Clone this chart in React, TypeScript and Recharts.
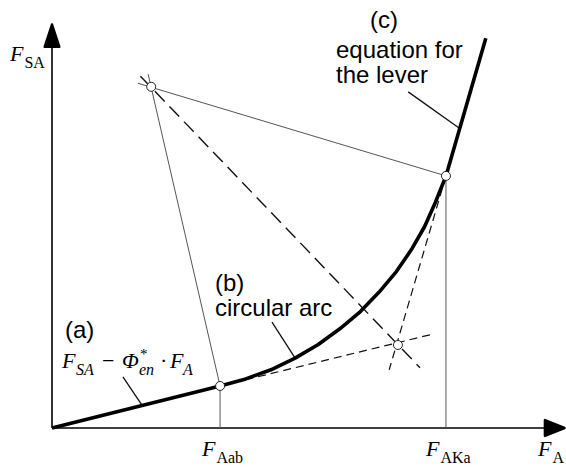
import { ComposedChart, Line, Scatter, XAxis, YAxis } from "recharts";

const W = 566;
const H = 467;

// characteristic curve: straight line (a), circular arc (b), lever equation (c)
const lineA = [
  { x: 0, y: 0 },
  { x: 32.7, y: 8.3 },
];
const arcB = [
  { x: 37.7, y: 9.7 },
  { x: 42.6, y: 11.5 },
  { x: 47.3, y: 13.8 },
  { x: 51.8, y: 16.5 },
  { x: 56.0, y: 19.6 },
  { x: 60.0, y: 23.0 },
  { x: 63.6, y: 26.8 },
  { x: 67.0, y: 30.9 },
  { x: 69.9, y: 35.2 },
  { x: 72.5, y: 39.8 },
  { x: 74.6, y: 44.6 },
];
const lineC = [
  { x: 76.65, y: 49.8 },
  { x: 84.4, y: 77.0 },
];
const curve = [...lineA, ...arcB, ...lineC];

// construction lines
const radiusAab = [
  { x: 18.7, y: 69.9 },
  { x: 32.7, y: 8.3 },
];
const radiusAKa = [
  { x: 16.7, y: 68.1 },
  { x: 76.65, y: 49.8 },
];
const dropAab = [
  { x: 32.7, y: 8.3 },
  { x: 32.7, y: 0 },
];
const dropAKa = [
  { x: 76.65, y: 49.8 },
  { x: 76.65, y: 0 },
];
const bisector = [
  { x: 17.2, y: 69.5 },
  { x: 71.6, y: 11.9 },
];
const tangentA = [
  { x: 32.7, y: 8.3 },
  { x: 74.3, y: 18.6 },
];
const tangentC = [
  { x: 76.65, y: 49.8 },
  { x: 65.6, y: 11.5 },
];

// leader lines from the labels
const leaderA = [
  { x: 13.8, y: 10.1 },
  { x: 17.5, y: 4.5 },
];
const leaderB = [
  { x: 42.8, y: 20.9 },
  { x: 47.3, y: 13.8 },
];
const leaderC = [
  { x: 69.3, y: 66.4 },
  { x: 79.4, y: 59.1 },
];

// axes, with arrowheads at F_A = 100 and F_SA = 80
const xAxisLine = [
  { x: 0, y: 0 },
  { x: 97, y: 0 },
];
const yAxisLine = [
  { x: 0, y: 0 },
  { x: 0, y: 77 },
];
// arrowheads traced as a fan of strokes from the tip to the base
const xArrowFan = [
  { x: 99.7, y: 0 }, { x: 95.9, y: -1.55 },
  { x: 99.7, y: 0 }, { x: 95.9, y: -1.05 },
  { x: 99.7, y: 0 }, { x: 95.9, y: -0.55 },
  { x: 99.7, y: 0 }, { x: 95.9, y: 0 },
  { x: 99.7, y: 0 }, { x: 95.9, y: 0.55 },
  { x: 99.7, y: 0 }, { x: 95.9, y: 1.05 },
  { x: 99.7, y: 0 }, { x: 95.9, y: 1.55 },
  { x: 95.9, y: -1.55 },
];
const yArrowFan = [
  { x: 0, y: 79.7 }, { x: -1.42, y: 75.3 },
  { x: 0, y: 79.7 }, { x: -0.95, y: 75.3 },
  { x: 0, y: 79.7 }, { x: -0.48, y: 75.3 },
  { x: 0, y: 79.7 }, { x: 0, y: 75.3 },
  { x: 0, y: 79.7 }, { x: 0.48, y: 75.3 },
  { x: 0, y: 79.7 }, { x: 0.95, y: 75.3 },
  { x: 0, y: 79.7 }, { x: 1.42, y: 75.3 },
  { x: -1.42, y: 75.3 },
];

// F_Aab, F_AKa, centre of the arc, tangent intersection
const nodes = [
  { x: 32.7, y: 8.3 },
  { x: 76.65, y: 49.8 },
  { x: 19.3, y: 67.4 },
  { x: 67.3, y: 16.4 },
];

const Node = (p: any) => (
  <circle cx={p.cx} cy={p.cy} r={4.5} fill="#fff" stroke="#222" strokeWidth={1} />
);

const serif = "'Liberation Serif', 'Times New Roman', serif";
const sans = "'Liberation Sans', Arial, sans-serif";

function Seg({ data, w = 1, color = "#444", dash }: { data: any[]; w?: number; color?: string; dash?: string }) {
  return (
    <Line
      data={data}
      dataKey="y"
      type="linear"
      stroke={color}
      strokeWidth={w}
      strokeDasharray={dash}
      strokeLinejoin="round"
      dot={false}
      activeDot={false}
      isAnimationActive={false}
      legendType="none"
    />
  );
}

function Sub({ x, y, main, sub }: { x: number; y: number; main: string; sub: string }) {
  return (
    <text x={x} y={y} fontFamily={serif} fontSize={22} fill="#000">
      <tspan fontStyle="italic">{main}</tspan>
      <tspan dx={1} dy={7} fontSize={16}>
        {sub}
      </tspan>
    </text>
  );
}

export default function App() {
  return (
    <div style={{ position: "absolute", left: 0, top: 0, width: W, height: H, background: "#fff" }}>
      <ComposedChart width={W} height={H} margin={{ top: 23, right: 0, bottom: 18.75, left: 31.44 }}>
        <XAxis type="number" dataKey="x" domain={[-4, 100]} hide />
        <YAxis type="number" dataKey="y" domain={[-4, 80]} hide />
        {Seg({ data: xAxisLine, w: 1.6, color: "#000" })}
        {Seg({ data: yAxisLine, w: 1.6, color: "#000" })}
        {Seg({ data: xArrowFan, w: 2.5, color: "#000" })}
        {Seg({ data: yArrowFan, w: 2.5, color: "#000" })}
        {Seg({ data: dropAab, w: 1, color: "#555" })}
        {Seg({ data: dropAKa, w: 1, color: "#555" })}
        {Seg({ data: radiusAab, w: 1, color: "#555" })}
        {Seg({ data: radiusAKa, w: 1, color: "#555" })}
        {Seg({ data: bisector, w: 1.4, color: "#111", dash: "14 7" })}
        {Seg({ data: tangentA, w: 1.2, color: "#111", dash: "8 5" })}
        {Seg({ data: tangentC, w: 1.2, color: "#111", dash: "8 5" })}
        {Seg({ data: leaderA, w: 1.3, color: "#111" })}
        {Seg({ data: leaderB, w: 1.3, color: "#111" })}
        {Seg({ data: leaderC, w: 1.3, color: "#111" })}
        <Line
          data={curve}
          dataKey="y"
          type="linear"
          stroke="#000"
          strokeWidth={3.6}
          strokeLinejoin="round"
          dot={false}
          activeDot={false}
          isAnimationActive={false}
        />
        <Scatter data={nodes} shape={Node} isAnimationActive={false} />
      </ComposedChart>
      <svg width={W} height={H} style={{ position: "absolute", left: 0, top: 0, pointerEvents: "none" }}>
        <Sub x={10} y={61} main="F" sub="SA" />
        <Sub x={202} y={456} main="F" sub="Aab" />
        <Sub x={426} y={456} main="F" sub="AKa" />
        <Sub x={538} y={456} main="F" sub="A" />

        <text fontFamily={sans} fontSize={24} fill="#000">
          <tspan x={65} y={338}>(a)</tspan>
          <tspan x={215} y={291}>(b)</tspan>
          <tspan x={215} y={316}>circular arc</tspan>
          <tspan x={370} y={28}>(c)</tspan>
          <tspan x={336} y={58}>equation for</tspan>
          <tspan x={336} y={83}>the lever</tspan>
        </text>

        <text y={368} fontFamily={serif} fontSize={22} fontStyle="italic" fill="#000">
          <tspan x={62}>F</tspan>
          <tspan x={76} dy={7} fontSize={16}>SA</tspan>
          <tspan x={102} dy={-7} fontStyle="normal">−</tspan>
          <tspan x={122}>Φ</tspan>
          <tspan x={140} dy={-9} fontSize={15} fontStyle="normal">*</tspan>
          <tspan x={139} dy={16} fontSize={16}>en</tspan>
          <tspan x={160} dy={-7} fontStyle="normal">·</tspan>
          <tspan x={170}>F</tspan>
          <tspan x={183} dy={7} fontSize={16}>A</tspan>
        </text>
      </svg>
    </div>
  );
}
